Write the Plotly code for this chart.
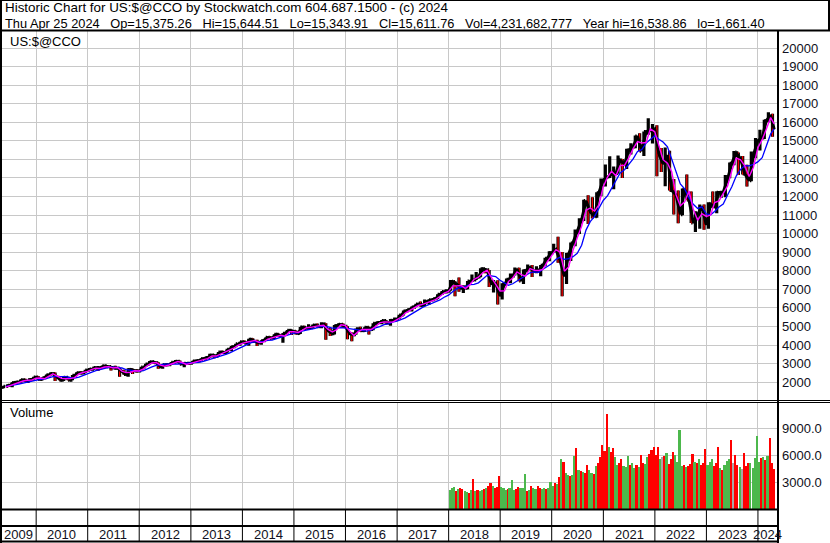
import pandas as pd
import plotly.graph_objects as go

# ---------------- data ----------------
first_month = "2009-05-01"
last_date = "2024-04-25"
first_open = 1719

high = [
    1775, 1884, 1996, 2039, 2151, 2191, 2205, 2295,
    2326, 2247, 2415, 2535, 2519, 2334, 2298, 2299, 2382, 2535, 2593, 2671,
    2766, 2840, 2800, 2887, 2888, 2830, 2888, 2766, 2670, 2753, 2720, 2680,
    2827, 2992, 3134, 3093, 3077, 2958, 2967, 3086, 3196, 3169, 3020, 3061,
    3154, 3215, 3270, 3331, 3532, 3480, 3627, 3694, 3798, 3952, 4070, 4177,
    4246, 4342, 4372, 4285, 4246, 4410, 4486, 4580, 4610, 4641, 4810, 4814,
    4777, 4975, 5042, 5120, 5111, 5164, 5232, 5176, 4917, 5086, 5176, 5155,
    5017, 4682, 4896, 4979, 4952, 4979, 5170, 5272, 5343, 5342, 5398, 5487,
    5634, 5867, 5929, 6075, 6221, 6341, 6460, 6455, 6503, 6742, 6915, 6999,
    7506, 7436, 7637, 7226, 7452, 7806, 7933, 8133, 8109, 8049, 7497, 7486,
    7332, 7590, 7850, 8176, 8164, 8072, 8340, 8312, 8243, 8305, 8705, 9052,
    9451, 9838, 9010, 8958, 9523, 10221, 10824, 11829, 12074, 11965, 12227, 12973,
    13729, 14175, 13620, 14212, 14016, 14572, 14863, 15288, 15403, 15500, 16212, 15901,
    15833, 14620, 14647, 14468, 12944, 12320, 12429, 13181, 12271, 11211, 11572, 11571,
    11691, 12269, 12281, 12270, 13154, 13830, 14446, 14377, 14178, 13714, 14423, 15150,
    15598, 16134, 16538, 16452,
]
low = [
    1679, 1765, 1727, 1962, 1974, 2040, 2050, 2142,
    2145, 2101, 2237, 2393, 2061, 2105, 2061, 2101, 2110, 2369, 2479, 2503,
    2650, 2690, 2603, 2730, 2760, 2629, 2736, 2299, 2405, 2298, 2441, 2520,
    2615, 2814, 2949, 2990, 2727, 2726, 2853, 2929, 3057, 2972, 2810, 2964,
    3070, 3114, 3153, 3154, 3322, 3294, 3403, 3580, 3588, 3671, 3876, 3963,
    4082, 3968, 4124, 3947, 4014, 4229, 4359, 4322, 4432, 4117, 4621, 4547,
    4563, 4601, 4825, 4857, 4906, 4959, 4909, 4292, 4487, 4567, 5016, 4937,
    4314, 4210, 4550, 4729, 4697, 4574, 4797, 5142, 5125, 5150, 5034, 5300,
    5400, 5591, 5769, 5805, 6046, 6078, 6105, 6177, 6353, 6484, 6695, 6783,
    6924, 6631, 6870, 6805, 7001, 7405, 7518, 7655, 7861, 7123, 6830, 6190,
    6457, 7271, 7335, 7743, 7442, 7292, 7961, 7662, 7866, 7700, 8245, 8512,
    8978, 8436, 6631, 7285, 8521, 9327, 9981, 10680, 10519, 10822, 10856, 12021,
    12543, 13003, 12397, 13226, 13002, 13487, 14266, 14602, 14433, 14181, 15325, 14861,
    13094, 13322, 12555, 12331, 11036, 10565, 10995, 11817, 10573, 10089, 10262, 10207,
    10265, 11383, 11095, 11925, 11963, 12982, 13680, 13161, 13186, 12544, 12825, 14058,
    14477, 15102, 15998, 15223,
]
close = [
    1774, 1835, 1979, 2009, 2122, 2045, 2145, 2269,
    2147, 2238, 2398, 2461, 2257, 2109, 2255, 2114, 2369, 2507, 2498, 2653,
    2700, 2782, 2781, 2874, 2835, 2774, 2756, 2579, 2415, 2684, 2620, 2605,
    2814, 2967, 3092, 3046, 2827, 2935, 2940, 3067, 3116, 2977, 3010, 3020,
    3142, 3160, 3268, 3329, 3456, 3403, 3626, 3590, 3771, 3920, 4060, 4177,
    4104, 4308, 4199, 4115, 4243, 4408, 4370, 4580, 4493, 4631, 4792, 4736,
    4635, 4964, 4901, 4941, 5070, 4987, 5128, 4777, 4620, 5054, 5109, 5007,
    4614, 4558, 4870, 4775, 4948, 4843, 5162, 5213, 5312, 5189, 5324, 5383,
    5615, 5825, 5912, 6048, 6199, 6140, 6348, 6429, 6496, 6728, 6874, 6903,
    7411, 7273, 7063, 7066, 7442, 7510, 7672, 8110, 8046, 7306, 7331, 6635,
    7282, 7533, 7729, 8095, 7453, 8006, 8175, 7963, 7999, 8292, 8665, 8973,
    9151, 8567, 7700, 8890, 9490, 10059, 10745, 11775, 11168, 10912, 12199, 12888,
    13071, 13192, 13247, 13962, 13749, 14504, 14673, 15259, 14448, 15498, 15538, 15645,
    14240, 13751, 14221, 12335, 12081, 11029, 12391, 11816, 10576, 10988, 11468, 10466,
    11585, 11456, 12222, 12227, 12935, 13788, 14346, 14035, 13219, 12851, 14226, 15011,
    15164, 16092, 16379, 15612,
]
# short moving average (magenta), month-end readings
ma_short = [
    1736, 1815, 1884, 1997, 2064, 2100, 2111, 2213,
    2222, 2183, 2322, 2447, 2325, 2201, 2181, 2192, 2244, 2445, 2519, 2581,
    2692, 2753, 2742, 2818, 2839, 2767, 2789, 2600, 2517, 2538, 2616, 2606,
    2715, 2897, 3036, 3055, 2919, 2862, 2924, 3006, 3109, 3059, 2954, 3014,
    3097, 3158, 3213, 3271, 3410, 3408, 3515, 3623, 3687, 3829, 3982, 4094,
    4152, 4181, 4251, 4137, 4155, 4323, 4406, 4463, 4529, 4471, 4714, 4722,
    4678, 4794, 4933, 4955, 5007, 5045, 5064, 4843, 4700, 4832, 5089, 5052,
    4738, 4516, 4719, 4838, 4843, 4836, 4993, 5197, 5248, 5248, 5236, 5374,
    5508, 5725, 5859, 5960, 6129, 6190, 6263, 6352, 6445, 6613, 6803, 6890,
    7186, 7188, 7211, 7040, 7240, 7541, 7658, 7893, 8032, 7631, 7241, 6911,
    6927, 7419, 7612, 7936, 7789, 7706, 8121, 8028, 8018, 8074, 8477, 8801,
    9138, 8998, 7977, 8208, 9106, 9774, 10402, 11257, 11384, 11217, 11549, 12520,
    13058, 13360, 13114, 13662, 13682, 14078, 14577, 14956, 14886, 14907, 15643, 15486,
    14703, 13983, 13794, 13339, 12099, 11499, 11711, 12301, 11309, 10716, 11073, 10928,
    11002, 11673, 11764, 12161, 12570, 13384, 14065, 13980, 13655, 13082, 13581, 14611,
    15063, 15623, 16252, 15917,
]
# long moving average (blue), month-end readings
ma_long = [
    1774, 1805, 1863, 1899, 1944, 1998, 2060, 2118,
    2146, 2169, 2239, 2303, 2300, 2293, 2296, 2239, 2221, 2271, 2349, 2428,
    2545, 2628, 2683, 2758, 2794, 2809, 2804, 2764, 2672, 2642, 2611, 2581,
    2628, 2738, 2820, 2905, 2949, 2973, 2968, 2963, 2977, 3007, 3022, 3038,
    3053, 3062, 3120, 3184, 3271, 3323, 3416, 3481, 3569, 3662, 3793, 3904,
    4006, 4114, 4170, 4181, 4194, 4255, 4267, 4343, 4419, 4496, 4573, 4646,
    4657, 4752, 4806, 4835, 4902, 4973, 5005, 4981, 4916, 4913, 4938, 4913,
    4881, 4868, 4832, 4765, 4753, 4799, 4920, 4988, 5096, 5144, 5240, 5284,
    5365, 5467, 5612, 5757, 5920, 6025, 6129, 6233, 6322, 6428, 6575, 6686,
    6882, 7038, 7105, 7143, 7251, 7271, 7351, 7560, 7756, 7729, 7693, 7486,
    7320, 7217, 7302, 7455, 7618, 7763, 7892, 7938, 7919, 8087, 8219, 8378,
    8616, 8730, 8611, 8656, 8760, 8941, 9377, 10192, 10647, 10932, 11360, 11788,
    12048, 12452, 12919, 13272, 13444, 13731, 14027, 14429, 14527, 14876, 15083, 15278,
    15074, 14934, 14679, 14038, 13326, 12683, 12411, 11931, 11579, 11360, 11448, 11063,
    11017, 11191, 11438, 11590, 12085, 12526, 13104, 13466, 13665, 13648, 13734, 13867,
    14093, 14667, 15373, 15650,
]

# half-month volume (millions), from Jan 2018
vol_start = "2018-01-01"
volume = [
    2100, 2400, 2500, 2000, 2200, 2300, 2200, 2000, 1900, 1800, 2100, 3400,
    2000, 2100, 2000, 2100, 2200, 2300, 2600, 2900, 2600, 2400, 2500, 3700,
    2500, 2300, 2100, 2200, 2300, 3300, 2100, 2200, 2500, 2400, 2300, 3900,
    2000, 2100, 2600, 2300, 2200, 2600, 2300, 2200, 2300, 2200, 2400, 3000,
    2600, 2900, 2800, 3600, 5600, 5300, 4000, 3800, 3700, 3800, 5900, 6800,
    4400, 4300, 4100, 4000, 4900, 4400, 4000, 3900, 4800, 5200, 5800, 7200,
    6500, 10700, 7000, 6400, 6800, 5800, 4900, 5200, 5600, 4800, 4700, 5900,
    4900, 5100, 4600, 4900, 4700, 6000, 5200, 5000, 5800, 6200, 6600, 6900,
    6000, 6900, 5600, 5800, 5900, 6300, 5000, 5600, 6400, 6000, 5300, 8900,
    4800, 4900, 4700, 4800, 5000, 6200, 5300, 5100, 5600, 4900, 5200, 6700,
    4900, 5300, 5600, 4800, 5200, 6900, 4600, 4400, 4900, 5400, 5600, 7700,
    5200, 6100, 4900, 4700, 4500, 6300, 4800, 5200, 5100, 4600, 5700, 8200,
    5300, 5700, 5800, 5500, 5900, 7900, 5200, 4500,
]
vol_colors = ("gggrgrrggrgrgrggrgrrgrrr"
              "gggrgggrrgggrgrggrrggrgg"
              "grgrgrggrggrgrgrrggrgrrr"
              "rrgrrggrrgggrggrgrrggrrr"
              "rrgnrgrrrggggrgrrrgrgrrr"
              "gggrrrgrgggrnrrgnrrrgggg"
              "grgrgrrr")

price_ticks = list(range(2000, 20001, 1000))
vol_ticks = [3000, 6000, 9000]
vol_tick_labels = ["3000.0", "6000.0", "9000.0"]
years = list(range(2009, 2025))

title_line1 = "Historic Chart for US:$@CCO by Stockwatch.com 604.687.1500 - (c) 2024"
title_parts = ["Thu Apr 25 2024", "Op=15,375.26", "Hi=15,644.51", "Lo=15,343.91",
               "Cl=15,611.76", "Vol=4,231,682,777", "Year hi=16,538.86", "lo=1,661.40"]
symbol_label = "US:$@CCO"
volume_label = "Volume"

# ---------------- layout helpers ----------------
W, H = 830, 543
L_PX, R_PX = 2, 777
FONT = "Liberation Sans, Arial, sans-serif"
TXT = "#101020"


def px_x(p):
    return (p - L_PX) / (R_PX - L_PX)


def px_y(p):
    return 1 - p / H


x_range = ["2009-05-04", "2024-05-15"]
months = pd.date_range(first_month, periods=len(close), freq="MS")
mid = list(months + pd.Timedelta(days=14))
ends = list(months + pd.offsets.MonthEnd(0))
ends[-1] = pd.Timestamp(last_date)
mid[-1] = pd.Timestamp("2024-04-13")
opens = [first_open] + close[:-1]

vol_months = pd.date_range(vol_start, periods=len(volume) // 2, freq="MS")
vol_x = [m + pd.Timedelta(days=d) for m in vol_months for d in (7.5, 23)]
cmap = {"g": "#4cb84c", "r": "#ff0000", "n": "#a8a8a8"}
bar_cols = [cmap[c] for c in vol_colors]

fig = go.Figure()
# price bars: black range bars joined by the closing path
fig.add_trace(go.Scatter(x=ends, y=close, mode="lines", line=dict(color="black", width=3),
                         hoverinfo="skip", showlegend=False, xaxis="x", yaxis="y"))
fig.add_trace(go.Ohlc(
    x=mid, open=opens, high=high, low=low, close=close,
    increasing=dict(line=dict(color="black", width=3.2)),
    decreasing=dict(line=dict(color="black", width=3.2)),
    tickwidth=0.35, hoverinfo="skip", showlegend=False, xaxis="x", yaxis="y"))
fig.add_trace(go.Ohlc(
    x=mid, open=opens, high=high, low=low, close=close,
    increasing=dict(line=dict(color="rgba(0,0,0,0)", width=1.3)),
    decreasing=dict(line=dict(color="#ff0000", width=1.3)),
    tickwidth=0.25, hoverinfo="skip", showlegend=False, xaxis="x", yaxis="y"))
fig.add_trace(go.Scatter(x=ends, y=ma_long, mode="lines",
                         line=dict(color="#0000ff", width=1.3),
                         hoverinfo="skip", showlegend=False, xaxis="x", yaxis="y"))
fig.add_trace(go.Scatter(x=ends, y=ma_short, mode="lines",
                         line=dict(color="#ff00ff", width=1.4),
                         hoverinfo="skip", showlegend=False, xaxis="x", yaxis="y"))
fig.add_trace(go.Bar(x=vol_x, y=volume, marker=dict(color=bar_cols, line=dict(width=0)),
                     width=15.3 * 86400000, hoverinfo="skip", showlegend=False,
                     xaxis="x2", yaxis="y2"))

grid = "#c8c8c8"
price_dom = [px_y(400.5), px_y(31)]
vol_dom = [px_y(509), px_y(402.5)]
xcommon = dict(type="date", range=x_range, showticklabels=False, showgrid=True,
               gridcolor=grid, gridwidth=1, tick0="2010-01-01", dtick="M12",
               zeroline=False, showline=False, ticks="", rangeslider=dict(visible=False),
               fixedrange=True)

fig.update_layout(
    width=W, height=H, autosize=False,
    margin=dict(l=L_PX, r=W - R_PX, t=0, b=0, pad=0),
    paper_bgcolor="white", plot_bgcolor="white",
    hovermode=False, showlegend=False, bargap=0,
    font=dict(family=FONT, size=12.5, color=TXT),
    xaxis=dict(domain=[0, 1], anchor="y", **xcommon),
    xaxis2=dict(domain=[0, 1], anchor="y2", matches="x", **xcommon),
    yaxis=dict(domain=price_dom, anchor="x", side="right", range=[1013, 20916],
               tickvals=price_ticks, ticktext=[str(v) for v in price_ticks],
               showgrid=True, gridcolor=grid, gridwidth=1, zeroline=False,
               showline=False, ticks="", ticklabelstandoff=4,
               tickfont=dict(family=FONT, size=13, color=TXT), fixedrange=True),
    yaxis2=dict(domain=vol_dom, anchor="x2", side="right", range=[0, 11933],
                tickvals=vol_ticks, ticktext=vol_tick_labels,
                showgrid=True, gridcolor=grid, gridwidth=1, zeroline=False,
                showline=False, ticks="", ticklabelstandoff=4,
                tickfont=dict(family=FONT, size=13, color=TXT), fixedrange=True),
)

# ---------------- frame lines ----------------
shapes = []


def hline(ypx, x0px, x1px, w):
    shapes.append(dict(type="line", xref="paper", yref="paper",
                       x0=px_x(x0px), x1=px_x(x1px), y0=px_y(ypx), y1=px_y(ypx),
                       line=dict(color="black", width=w), layer="above"))


def vline(xpx, y0px, y1px, w):
    shapes.append(dict(type="line", xref="paper", yref="paper",
                       x0=px_x(xpx), x1=px_x(xpx), y0=px_y(y0px), y1=px_y(y1px),
                       line=dict(color="black", width=w), layer="above"))


hline(0.5, 0, 830, 1)        # top of title box
hline(30.5, 0, 830, 2)       # under title
vline(829, 0, 31, 2)         # right edge of title box
vline(1, 0, 543, 2)          # left edge
hline(400.5, 0, 830, 1)      # price panel bottom
hline(402.5, 0, 830, 1)      # volume panel top
hline(509.5, 0, 778, 2)      # volume panel bottom
hline(526, 0, 778, 2)        # strip divider
hline(541.5, 0, 778, 2)      # bottom line
vline(778, 31, 543, 2)       # right axis line

for yr in years[1:]:
    shapes.append(dict(type="line", xref="x", yref="paper",
                       x0=f"{yr}-01-01", x1=f"{yr}-01-01",
                       y0=px_y(510), y1=px_y(541),
                       line=dict(color="black", width=1), layer="above"))
fig.update_layout(shapes=shapes)

# ---------------- texts ----------------
ann = []
sp = "\u00a0\u00a0\u00a0"
ann.append(dict(text=title_line1, xref="paper", yref="paper", x=px_x(3), y=px_y(7.5),
                xanchor="left", yanchor="middle", showarrow=False,
                font=dict(family=FONT, size=13.4, color="black")))
ann.append(dict(text=sp.join(title_parts), xref="paper", yref="paper", x=px_x(3), y=px_y(23.5),
                xanchor="left", yanchor="middle", showarrow=False,
                font=dict(family=FONT, size=12.8, color="black")))
ann.append(dict(text=symbol_label, xref="paper", yref="paper", x=px_x(8), y=px_y(41),
                xanchor="left", yanchor="middle", showarrow=False,
                font=dict(family=FONT, size=13, color="black")))
ann.append(dict(text=volume_label, xref="paper", yref="paper", x=px_x(8), y=px_y(413),
                xanchor="left", yanchor="middle", showarrow=False,
                font=dict(family=FONT, size=13, color="black")))

x0 = pd.Timestamp(x_range[0])
for i, yr in enumerate(years):
    a = max(pd.Timestamp(f"{yr}-01-01"), x0)
    b = min(pd.Timestamp(f"{yr + 1}-01-01"), pd.Timestamp(x_range[1]))
    if i == 0:
        ann.append(dict(text=str(yr), xref="x", yref="paper", x=x0, y=px_y(534.5),
                        xanchor="left", yanchor="middle", showarrow=False,
                        font=dict(family=FONT, size=13, color=TXT)))
    else:
        ann.append(dict(text=str(yr), xref="x", yref="paper", x=a + (b - a) / 2, y=px_y(534.5),
                        xanchor="center", yanchor="middle", showarrow=False,
                        font=dict(family=FONT, size=13, color=TXT)))
fig.update_layout(annotations=ann)

fig.write_html("out.html", config={"displayModeBar": False, "staticPlot": True},
               post_script="document.body.style.margin='0';")
